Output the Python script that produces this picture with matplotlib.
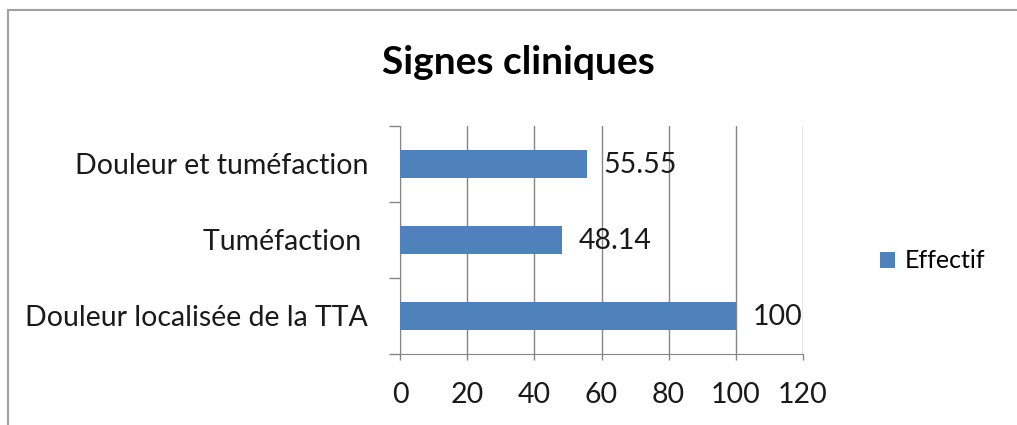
import matplotlib.pyplot as plt
from matplotlib.patches import Patch
from matplotlib.lines import Line2D

categories = ['Douleur localisée de la TTA', 'Tuméfaction ', 'Douleur et tuméfaction']
values = [100, 48.14, 55.55]
value_labels = ['100', '48.14', '55.55']
x_ticks = [0, 20, 40, 60, 80, 100, 120]

bar_color = '#4F81BD'
grid_color = '#868686'

plt.rcParams['font.family'] = ['Lato', 'DejaVu Sans']

fig = plt.figure(figsize=(10.17, 4.25), dpi=100)
ax = fig.add_axes([400 / 1017, 1 - 354 / 425, 403 / 1017, 228 / 425])

ypos = list(range(len(categories)))
ax.barh(ypos, values, height=0.37, color=bar_color, zorder=3)

for y, v, lab in zip(ypos, values, value_labels):
    ax.annotate(lab, (v, y), xytext=(12, -1), textcoords='offset points',
                va='center', ha='left', fontsize=20.5, color='#1a1a1a')

ax.set_xlim(0, 120)
ax.set_ylim(-0.5, len(categories) - 0.5)
ax.set_xticks(x_ticks)
ax.set_xticklabels([str(t) for t in x_ticks], fontsize=20.5, color='#1a1a1a')
ax.set_yticks([y - 0.5 for y in ypos] + [len(categories) - 0.5])
ax.set_yticklabels([])
ax.set_yticks(ypos, minor=True)
ax.set_yticklabels(categories, minor=True, fontsize=20.5, color='#1a1a1a')
ax.tick_params(axis='y', which='minor', length=0, pad=23)
ax.tick_params(axis='y', which='major', length=8, color=grid_color, width=1)
ax.tick_params(axis='x', length=4, color=grid_color, width=1, pad=16)

ax.grid(axis='x', color=grid_color, linewidth=1, zorder=0)
for side in ['top', 'right']:
    ax.spines[side].set_visible(False)
for side in ['left', 'bottom']:
    ax.spines[side].set_color(grid_color)

fig.text(518 / 1017, 1 - 63 / 425, 'Signes cliniques', ha='center', va='center',
         fontsize=28, fontweight='bold')

handles = [Patch(facecolor=bar_color, label='Effectif')]
fig.legend(handles=handles, loc='center left', bbox_to_anchor=(860 / 1017, 1 - 261 / 425),
           frameon=False, fontsize=18, handlelength=0.6, handleheight=0.6,
           handletextpad=0.4, borderpad=0.3)

# chart border (cropped on the right and bottom)
fig.add_artist(Line2D([8 / 1017, 8 / 1017], [0, 1 - 10 / 425], color='#A0A0A0', lw=1.5))
fig.add_artist(Line2D([8 / 1017, 1], [1 - 10 / 425, 1 - 10 / 425], color='#A0A0A0', lw=1.5))

fig.savefig('out.png', dpi=100)
